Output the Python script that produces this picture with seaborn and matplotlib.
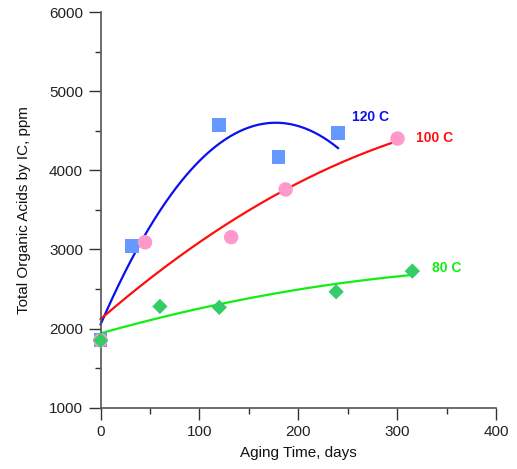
import numpy as np
import pandas as pd
import matplotlib
matplotlib.use("Agg")
import matplotlib.pyplot as plt
import seaborn as sns
from matplotlib.ticker import MultipleLocator

# ---- data ----
days_120 = [0, 32, 120, 180, 240]
toa_120 = [1855, 3042, 4569, 4168, 4472]

days_100 = [0, 45, 132, 187, 300]
toa_100 = [1851, 3090, 3155, 3758, 4401]

days_80 = [0, 60, 120, 238, 315]
toa_80 = [1851, 2280, 2268, 2465, 2726]

# trend curves as drawn in the reference (sampled points)
fit120_x = [0, 14.6, 38.2, 61.8, 85.4, 108.9, 134.1, 178, 211.6, 240.2]
fit120_y = [2000, 2528, 3033, 3496, 3917, 4212, 4465, 4604, 4506, 4275]
fit100_x = [0, 28.1, 61.8, 95.5, 129, 162.8, 183, 252, 298]
fit100_y = [2130, 2401, 2739, 3054, 3348, 3581, 3727, 4149, 4360]
fit80_x = [0, 61.8, 120.7, 179.6, 236.9, 314.3]
fit80_y = [1945, 2129, 2318, 2452, 2562, 2676]

series_labels = ["120 C", "100 C", "80 C"]
x_ticks = [0, 100, 200, 300, 400]
y_ticks = [1000, 2000, 3000, 4000, 5000, 6000]

sns.set_style("white")
plt.rcParams["font.family"] = ["Liberation Sans", "DejaVu Sans"]

fig = plt.figure(figsize=(5.17, 4.69), dpi=100)
ax = fig.add_axes([0.1944, 0.1307, 0.7659, 0.8437])

def smooth(xs, ys, deg):
    c = np.polyfit(xs, ys, deg)
    xx = np.linspace(min(xs), max(xs), 200)
    return pd.DataFrame({"x": xx, "y": np.polyval(c, xx)})

line_specs = [
    (fit120_x, fit120_y, 3, "#0a10ee"),
    (fit100_x, fit100_y, 2, "#ff0d0d"),
    (fit80_x, fit80_y, 2, "#11ee11"),
]
for xs, ys, deg, col in line_specs:
    d = smooth(xs, ys, deg)
    sns.lineplot(data=d, x="x", y="y", ax=ax, color=col, lw=1.6, clip_on=False, zorder=2)

pt_specs = [
    (days_120, toa_120, "s", 9.8, "#6699ff"),
    (days_100, toa_100, "o", 10.4, "#ff99cc"),
    (days_80, toa_80, "D", 7.8, "#33cc66"),
]
for xs, ys, mk, ms, col in pt_specs:
    d = pd.DataFrame({"x": xs, "y": ys})
    sns.scatterplot(data=d, x="x", y="y", ax=ax, marker=mk, s=ms ** 2, color=col,
                    edgecolor="none", linewidth=0, clip_on=False, zorder=3)

label_pos = [(254, 4670, "#1010ee"), (319, 4404, "#ff1010"), (335, 2764, "#11ee11")]
for lab, (lx, ly, col) in zip(series_labels, label_pos):
    ax.text(lx, ly, lab, color=col, fontsize=10, fontweight="bold", va="center", ha="left")

ax.set_xlim(0, 400)
ax.set_ylim(1000, 6000)
ax.set_xticks(x_ticks)
ax.set_yticks(y_ticks)
ax.xaxis.set_minor_locator(MultipleLocator(50))
ax.yaxis.set_minor_locator(MultipleLocator(500))
ax.tick_params(which="major", direction="out", length=8.6, width=1.0, color="#333333",
               labelsize=11, labelcolor="#222222", pad=4)
ax.tick_params(which="minor", direction="out", length=4.3, width=1.0, color="#333333")
ax.tick_params(axis="x", which="both", bottom=True)
ax.tick_params(axis="y", which="both", left=True)
for s in ["top", "right"]:
    ax.spines[s].set_visible(False)
for s in ["left", "bottom"]:
    ax.spines[s].set_color("#555555")
    ax.spines[s].set_linewidth(1.2)

ax.set_xlabel("Aging Time, days", fontsize=11, color="#111111", labelpad=5)
ax.set_ylabel("Total Organic Acids by IC, ppm", fontsize=11, color="#111111", labelpad=13)

fig.savefig("out.png", dpi=100)
